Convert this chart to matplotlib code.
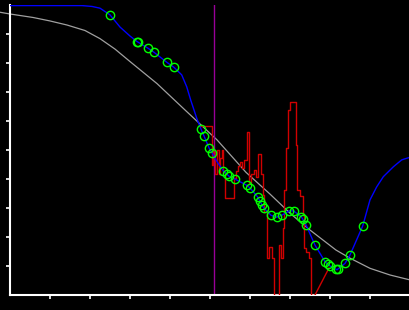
import numpy as np
import matplotlib
matplotlib.use("Agg")
import matplotlib.pyplot as plt

# values (x: 0..10, y: 0..10, no tick labels)

# grey reference curve
grey_x = [-0.25, 0.0, 0.575, 1.0, 1.425, 1.875, 2.25, 2.625, 3.0, 3.675, 4.375,
          5.175, 5.9, 6.5, 7.025, 7.5, 8.15, 8.5, 9.0, 9.5, 10.0]
grey_y = [9.75, 9.69, 9.57, 9.45, 9.31, 9.12, 8.84, 8.48, 8.05, 7.29, 6.38,
          5.35, 4.23, 3.48, 2.79, 2.24, 1.55, 1.27, 0.92, 0.69, 0.52]

# blue fitted curve
fit_x = [0.0, 1.8, 2.05, 2.25, 2.5, 2.75, 3.0, 3.175, 3.45, 3.6, 3.925, 4.1,
         4.293, 4.418, 4.518, 4.6, 4.675, 4.775, 4.855, 4.98, 5.055, 5.175,
         5.333, 5.48, 5.633, 5.925, 6.0, 6.193, 6.338, 6.525, 6.663, 6.808,
         6.983, 7.088, 7.283, 7.4, 7.625, 7.875, 8.0, 8.175, 8.375, 8.5,
         8.818, 9.0, 9.168, 9.333, 9.583, 9.793, 10.0]
fit_y = [9.98, 9.98, 9.95, 9.89, 9.66, 9.24, 8.93, 8.74, 8.51, 8.37, 8.02, 7.85,
         7.59, 7.18, 6.72, 6.38, 6.07, 5.72, 5.47, 5.06, 4.89, 4.60,
         4.28, 4.09, 3.99, 3.78, 3.69, 3.38, 3.01, 2.75, 2.68, 2.76,
         2.90, 2.90, 2.70, 2.42, 1.72, 1.15, 1.00, 0.87, 1.09, 1.38,
         2.38, 3.28, 3.73, 4.08, 4.42, 4.66, 4.75]

# green measured points
pts_x = [2.5, 3.168, 3.208, 3.458, 3.608, 3.918, 4.1, 4.775, 4.855, 4.98, 5.055,
         5.333, 5.42, 5.48, 5.633, 5.925, 6.0, 6.193, 6.258, 6.305, 6.338,
         6.525, 6.663, 6.808, 6.983, 7.088, 7.283, 7.32, 7.4, 7.625, 7.875,
         7.938, 8.0, 8.15, 8.208, 8.375, 8.5, 8.818]
pts_y = [9.66, 8.74, 8.71, 8.51, 8.37, 8.02, 7.85, 5.72, 5.47, 5.06, 4.89,
         4.28, 4.17, 4.09, 3.99, 3.78, 3.69, 3.38, 3.23, 3.10, 3.01,
         2.75, 2.68, 2.76, 2.90, 2.90, 2.70, 2.63, 2.42, 1.72, 1.15,
         1.07, 1.00, 0.89, 0.89, 1.09, 1.38, 2.38]

# red histogram-like trace (left edges / levels)
red_x = [4.75, 5.043, 5.075, 5.113, 5.175, 5.213, 5.238, 5.288, 5.318, 5.383,
         5.593, 5.65, 5.7, 5.75, 5.8, 5.85, 5.913, 5.983, 6.025, 6.108, 6.15,
         6.193, 6.275, 6.313, 6.358, 6.425, 6.483, 6.558, 6.6, 6.733, 6.775,
         6.818, 6.858, 6.9, 6.938, 6.988, 7.138, 7.163, 7.25, 7.318, 7.358,
         7.4, 7.483, 7.525, 7.625]
red_y = [5.83, 4.48, 5.0, 4.17, 5.0, 4.17, 4.72, 5.0, 4.24, 3.34,
         4.03, 4.28, 4.45, 4.59, 4.38, 4.66, 5.62, 3.86, 4.17, 4.31, 4.07,
         4.86, 4.17, 3.45, 2.86, 1.28, 1.66, 1.28, 0.0, 1.72, 1.28,
         2.31, 3.62, 5.07, 6.38, 6.66, 5.17, 3.62, 3.41, 2.76, 1.62,
         1.48, 1.28, 0.0, 0.0]
red_tail_x = [7.625, 7.975]
red_tail_y = [0.0, 0.93]

marker_x = 5.1

fig = plt.figure(figsize=(4.1, 3.1), dpi=100, facecolor="black")
ax = fig.add_axes([10 / 410, 15 / 310, 400 / 410, 290 / 310])
ax.set_facecolor("black")

ax.plot(grey_x, grey_y, color="#a0a0a0", lw=0.9, clip_on=False, zorder=2)
ax.axvline(marker_x, color="#980098", lw=1.0, zorder=2)
ax.plot(red_x, red_y, color="#d00000", lw=1.0, drawstyle="steps-post", zorder=3)
ax.plot(red_tail_x, red_tail_y, color="#d00000", lw=1.0, zorder=3)
ax.plot(fit_x, fit_y, color="#0000ff", lw=1.0, zorder=4)
ax.plot(pts_x, pts_y, ls="none", marker="o", ms=6, mfc="none",
        mec="#00ff00", mew=1.0, zorder=5)

ax.set_xlim(0, 10)
ax.set_ylim(0, 10)
ax.set_xticks(np.arange(1, 10))
ax.set_yticks(np.arange(1, 10))
ax.tick_params(colors="white", length=3, width=1.2,
               labelbottom=False, labelleft=False)
for side in ["top", "right"]:
    ax.spines[side].set_visible(False)
for side in ["left", "bottom"]:
    ax.spines[side].set_color("white")
    ax.spines[side].set_linewidth(1.5)

fig.savefig("out.png", dpi=100, facecolor="black")
